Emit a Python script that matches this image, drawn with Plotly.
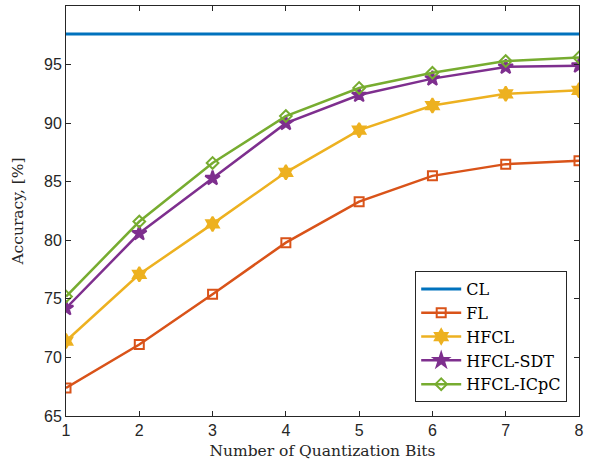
import plotly.graph_objects as go

bits = [1, 2, 3, 4, 5, 6, 7, 8]
cl = [97.6] * 8
fl = [67.4, 71.1, 75.4, 79.8, 83.3, 85.5, 86.5, 86.8]
hfcl = [71.4, 77.1, 81.4, 85.8, 89.4, 91.5, 92.5, 92.8]
hfcl_sdt = [74.2, 80.6, 85.3, 90.0, 92.4, 93.8, 94.8, 94.9]
hfcl_icpc = [75.2, 81.6, 86.6, 90.6, 93.0, 94.3, 95.3, 95.6]

series = [
    ("CL", cl, "#0072BD", None),
    ("FL", fl, "#D95319", "square-open"),
    ("HFCL", hfcl, "#EDB120", "hexagram"),
    ("HFCL-SDT", hfcl_sdt, "#7E2F8E", "star"),
    ("HFCL-ICpC", hfcl_icpc, "#77AC30", "diamond-open"),
]

fig = go.Figure()
for name, vals, color, sym in series:
    if sym is None:
        fig.add_trace(go.Scatter(x=bits, y=vals, name=name, mode="lines",
                                 line=dict(color=color, width=3)))
    else:
        size = 11 if sym in ("hexagram", "star") else 9
        fig.add_trace(go.Scatter(x=bits, y=vals, name=name, mode="lines+markers",
                                 line=dict(color=color, width=2.5),
                                 marker=dict(symbol=sym, size=size, color=color,
                                             line=dict(color=color, width=2))))

axis_common = dict(showgrid=False, zeroline=False, showline=True, linecolor="#262626",
                   linewidth=1, mirror="ticks", ticks="inside", ticklen=5,
                   tickcolor="#262626", tickfont=dict(family="Liberation Sans", size=16, color="#262626"))

serif = "DejaVu Serif"
fig.update_layout(
    width=589, height=465,
    margin=dict(l=66, r=5, t=6, b=49),
    plot_bgcolor="white", paper_bgcolor="white",
    xaxis=dict(range=[1, 8], dtick=1, **axis_common,
               title=dict(text="Number of Quantization Bits", standoff=6,
                          font=dict(family=serif, size=15.5, color="#262626"))),
    yaxis=dict(range=[65, 100], dtick=5, **axis_common,
               title=dict(text="Accuracy, [%]", standoff=16,
                          font=dict(family=serif, size=15.5, color="#262626"))),
    legend=dict(x=0.977, y=0.034, xanchor="right", yanchor="bottom",
                bordercolor="#262626", borderwidth=1, bgcolor="white",
                font=dict(family=serif, size=16, color="black"),
                tracegroupgap=0, itemwidth=40),
    showlegend=True,
)

fig.write_html("out.html")
